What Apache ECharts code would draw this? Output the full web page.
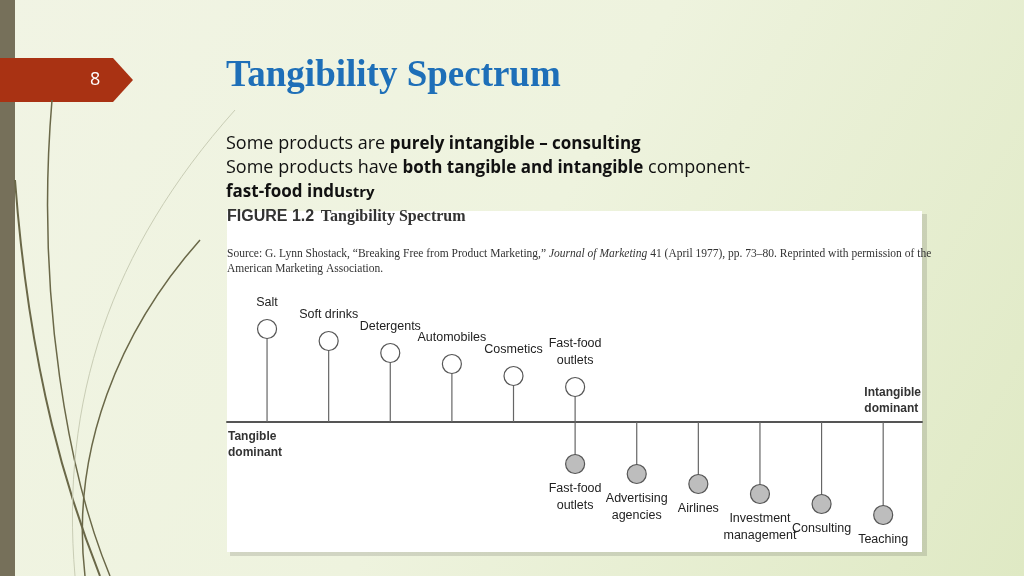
<!DOCTYPE html>
<html><head><meta charset="utf-8">
<script src="https://cdn.jsdelivr.net/npm/echarts@6/dist/echarts.min.js"></script>
<style>html,body{margin:0;padding:0;}#c{width:1024px;height:576px;}</style>
</head><body><div id="c"></div>
<script>
// Data
const tangibleItems = ['Salt','Soft drinks','Detergents','Automobiles','Cosmetics','Fast-food\noutlets'];
const tangibleLevels = [93, 81, 69, 58, 46, 35];
const intangibleItems = ['Fast-food\noutlets','Advertising\nagencies','Airlines','Investment\nmanagement','Consulting','Teaching'];
const intangibleLevels = [-42, -52, -62, -72, -82, -93];
const tangiblePos = [0,1,2,3,4,5];
const intangiblePos = [5,6,7,8,9,10];

const chart = echarts.init(document.getElementById('c'));
const up = tangiblePos.map((p,i)=>({value:[p,tangibleLevels[i]],name:tangibleItems[i]}));
const down = intangiblePos.map((p,i)=>({value:[p,intangibleLevels[i]],name:intangibleItems[i]}));
const labelFont = {fontFamily:'Liberation Sans, Arial',fontSize:12.5,color:'#222',lineHeight:17};
chart.setOption({
  backgroundColor: {type:'linear',x:0,y:0,x2:1,y2:1,colorStops:[{offset:0,color:'#f1f4e4'},{offset:0.5,color:'#eef3de'},{offset:1,color:'#dfe9c4'}]},
  graphic:[
    {type:'rect',shape:{x:0,y:0,width:15,height:576},style:{fill:'#76705a'}},
    {type:'polygon',shape:{points:[[0,58],[113,58],[133,80],[113,102],[0,102]]},style:{fill:'#a93213'}},
    {type:'text',left:90,top:71,style:{text:'8',fill:'#fff',font:'18px "Open Sans", sans-serif'}},
    {type:'bezierCurve',shape:{x1:52,y1:100,cpx1:35,cpy1:300,cpx2:70,cpy2:480,x2:110,y2:576},style:{stroke:'#6a6848',lineWidth:1.5,fill:null}},
    {type:'bezierCurve',shape:{x1:15,y1:180,cpx1:30,cpy1:380,cpx2:70,cpy2:500,x2:100,y2:576},style:{stroke:'#6a6848',lineWidth:2,fill:null}},
    {type:'bezierCurve',shape:{x1:200,y1:240,cpx1:120,cpy1:330,cpx2:70,cpy2:450,x2:85,y2:576},style:{stroke:'#6a6848',lineWidth:1.5,fill:null}},
    {type:'bezierCurve',shape:{x1:235,y1:110,cpx1:110,cpy1:250,cpx2:60,cpy2:400,x2:75,y2:576},style:{stroke:'#c9cdb5',lineWidth:1,fill:null}},
    {type:'text',left:226,top:58,style:{text:'Tangibility Spectrum',fill:'#1e6fb8',font:'bold 37px "Liberation Serif", serif'}},
    {type:'text',left:226,top:135,style:{rich:{a:{font:'18px "Open Sans", sans-serif',fill:'#111'},b:{font:'bold 17px "Open Sans", sans-serif',fill:'#111'}},text:'{a|Some products are }{b|purely intangible – consulting}'}},
    {type:'text',left:226,top:159,style:{rich:{a:{font:'18px "Open Sans", sans-serif',fill:'#111'},b:{font:'bold 17px "Open Sans", sans-serif',fill:'#111'}},text:'{a|Some products have }{b|both tangible and intangible}{a| component-}'}},
    {type:'text',left:226,top:184,style:{rich:{b:{font:'bold 17px "Open Sans", sans-serif',fill:'#111'},c:{font:'bold 15px "Open Sans", sans-serif',fill:'#111'}},text:'{b|fast-food indu}{c|stry}'}},
    {type:'rect',z:-1,shape:{x:230,y:214,width:697,height:342},style:{fill:'rgba(0,0,0,0.12)'}},
    {type:'rect',z:-1,shape:{x:227,y:211,width:695,height:341},style:{fill:'#fff'}},
    {type:'text',left:227,top:209,style:{rich:{a:{font:'bold 16px "Liberation Sans", sans-serif',fill:'#333'},b:{font:'bold 16px "Liberation Serif", serif',fill:'#333'}},text:'{a|FIGURE 1.2}  {b|Tangibility Spectrum}'}},
    {type:'text',left:227,top:246,style:{rich:{a:{font:'11.5px "Liberation Serif", serif',fill:'#333'},i:{font:'italic 11.5px "Liberation Serif", serif',fill:'#333'}},text:'{a|Source: G. Lynn Shostack, “Breaking Free from Product Marketing,” }{i|Journal of Marketing}{a| 41 (April 1977), pp. 73–80. Reprinted with permission of the}\n{a|American Marketing Association.}',lineHeight:15}},
    {type:'text',left:228,top:429,style:{text:'Tangible\ndominant',fill:'#333',font:'bold 12px "Liberation Sans", sans-serif',lineHeight:16}},
    {type:'text',right:103,top:385,style:{text:'Intangible\ndominant',fill:'#333',align:'right',font:'bold 12px "Liberation Sans", sans-serif',lineHeight:16}}
  ],
  grid:{left:227,right:102,top:212,bottom:24},
  xAxis:{type:'value',min:-0.65,max:10.63,axisLine:{show:true,onZero:true,lineStyle:{color:'#555',width:2}},axisTick:{show:false},axisLabel:{show:false},splitLine:{show:false}},
  yAxis:{type:'value',min:-130,max:210,show:false},
  series:[
    {type:'bar',z:1,data:up.map(d=>d.value),barWidth:1.2,itemStyle:{color:'#666'},barGap:'-100%',silent:true},
    {type:'bar',z:1,data:down.map(d=>d.value),barWidth:1.2,itemStyle:{color:'#666'},barGap:'-100%',silent:true},
    {type:'scatter',z:5,data:up,symbolSize:19,itemStyle:{color:'#fff',borderColor:'#555',borderWidth:1.2,opacity:1},
      label:{show:true,position:'top',distance:8,formatter:p=>p.name,...labelFont}},
    {type:'scatter',z:5,data:down,symbolSize:19,itemStyle:{color:'#bdbdbd',borderColor:'#555',borderWidth:1.2,opacity:1},
      label:{show:true,position:'bottom',distance:6,formatter:p=>p.name,...labelFont}}
  ]
});
</script></body></html>
